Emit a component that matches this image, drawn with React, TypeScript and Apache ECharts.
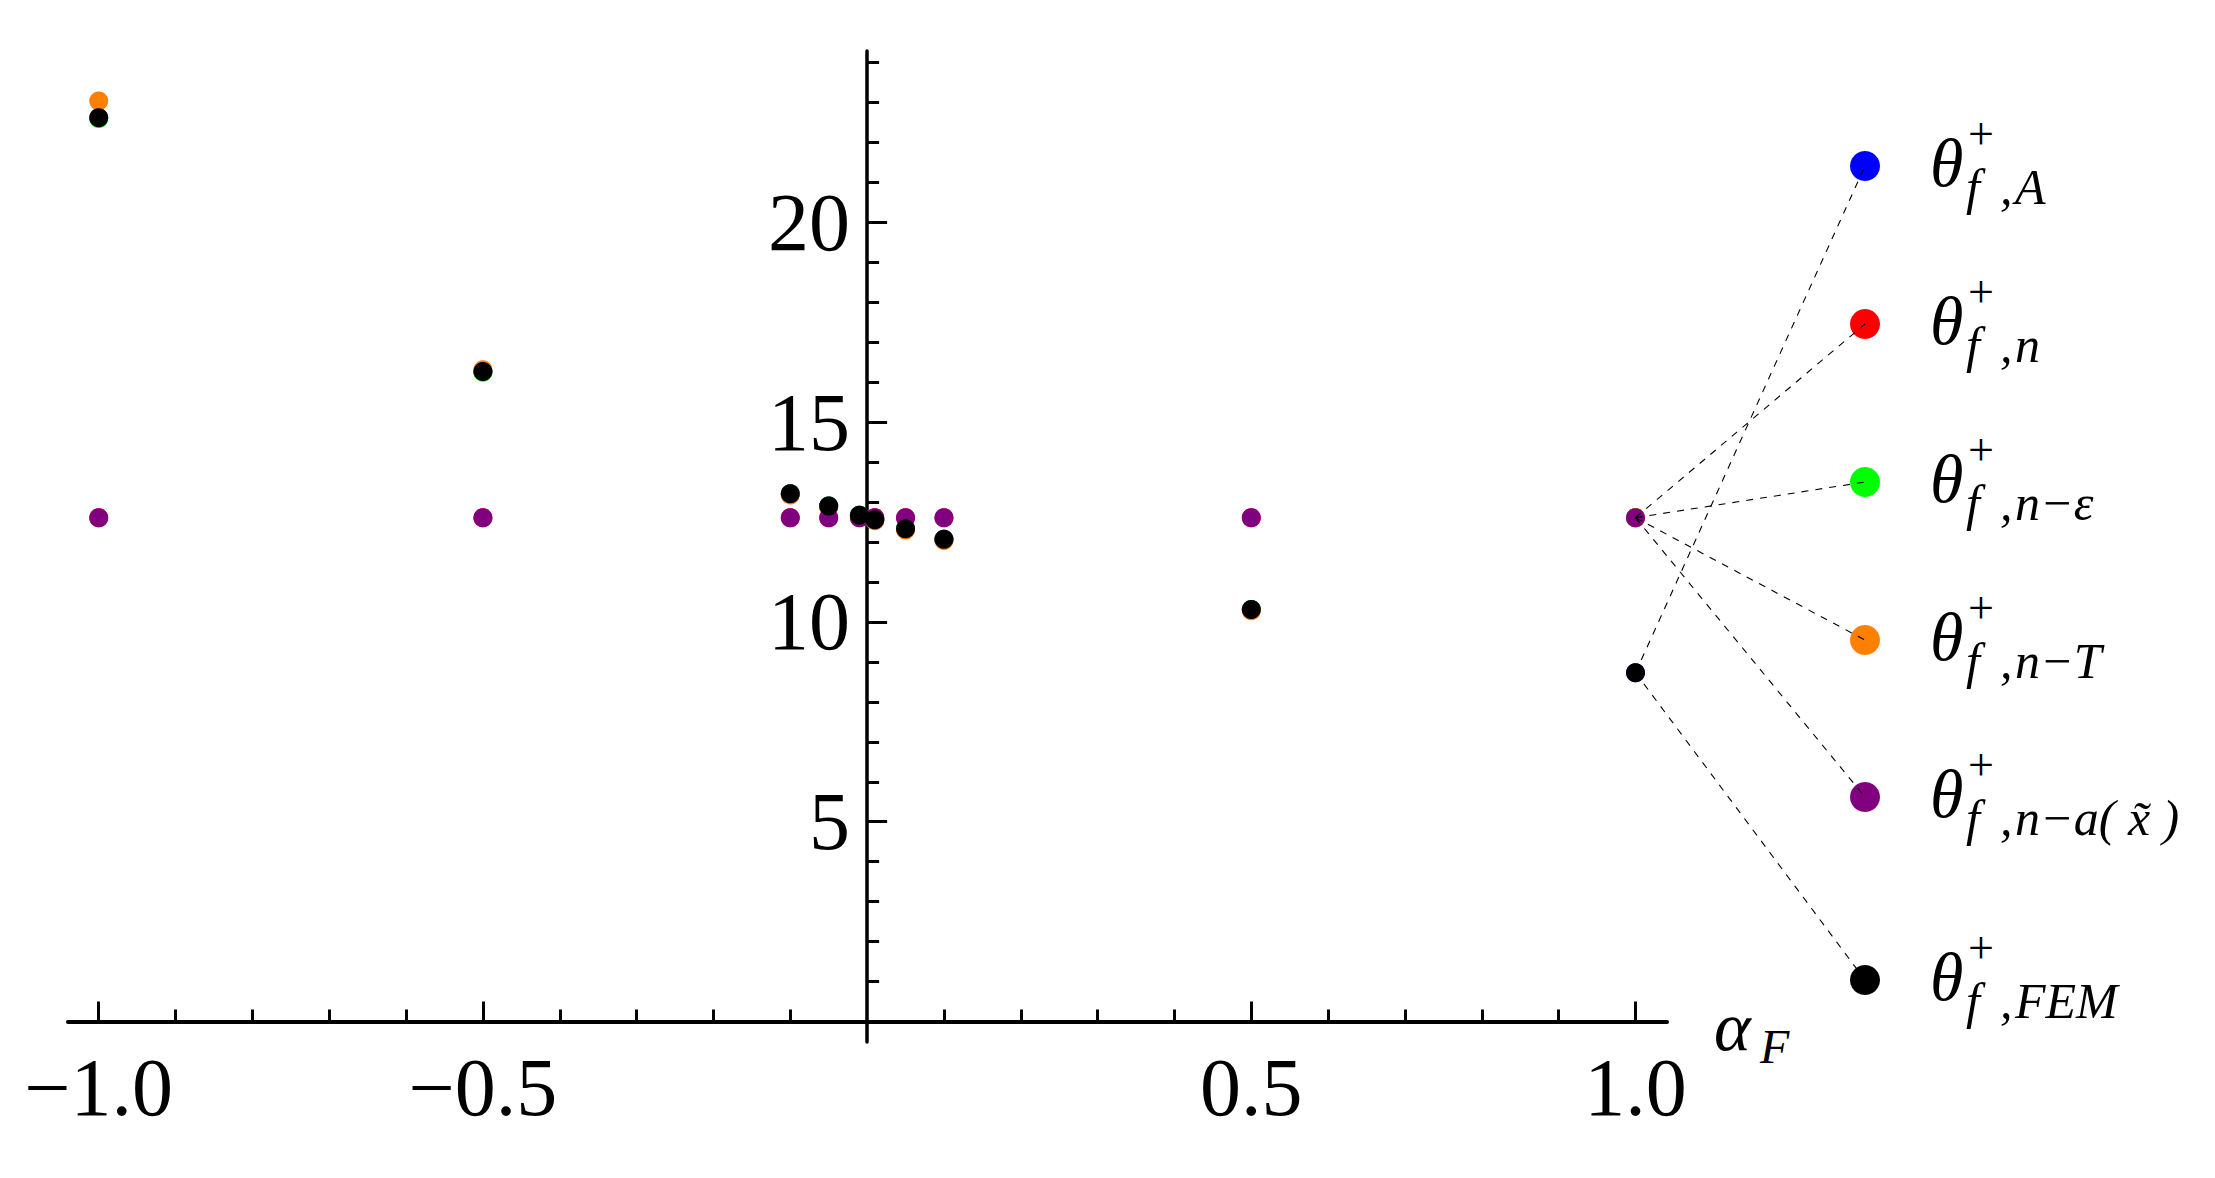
import React, { useEffect, useRef } from "react";
import * as echarts from "echarts";

// ---- data ----
const alphaValues = [-1, -0.5, -0.1, -0.05, -0.01, 0.01, 0.05, 0.1, 0.5, 1];
const thetaA = [22.62, 16.27, 13.21, 12.9, 12.67, 12.56, 12.33, 12.07, 10.31, 8.73];
const thetaN = [12.61, 12.61, 12.61, 12.61, 12.61, 12.61, 12.61, 12.61, 12.61, 12.61];
const thetaNEps = [22.6, 16.25, 13.21, 12.9, 12.67, 12.56, 12.33, 12.07, 10.31, 12.61];
const thetaNT = [23.04, 16.31, 13.18, 12.87, 12.64, 12.53, 12.3, 12.04, 10.28, 12.61];
const thetaNAx = [12.61, 12.61, 12.61, 12.61, 12.61, 12.61, 12.61, 12.61, 12.61, 12.61];
const thetaFEM = [22.62, 16.27, 13.21, 12.9, 12.67, 12.56, 12.33, 12.07, 10.31, 8.73];

const xMajorTicks = [-1, -0.5, 0.5, 1];
const xMinorTicks = [-0.9, -0.8, -0.7, -0.6, -0.4, -0.3, -0.2, -0.1, 0.1, 0.2, 0.3, 0.4, 0.6, 0.7, 0.8, 0.9];
const yMajorTicks = [5, 10, 15, 20];
const yMinorTicks = [1, 2, 3, 4, 6, 7, 8, 9, 11, 12, 13, 14, 16, 17, 18, 19, 21, 22, 23, 24];

const seriesNames = ["θ+ f,A", "θ+ f,n", "θ+ f,n−ε", "θ+ f,n−T", "θ+ f,n−a(x̃)", "θ+ f,FEM"];
const seriesColors = ["#0000ff", "#ff0000", "#00ff00", "#ff8000", "#800080", "#000000"];
const legendSubscripts = ["A", "n", "n−ε", "n−T", "n−a( x\u0303 )", "FEM"];
const seriesValues = [thetaA, thetaN, thetaNEps, thetaNT, thetaNAx, thetaFEM];

// ---- layout ----
const X_MIN = -1.04;
const X_MAX = 1.041;
const Y_MIN = -0.513;
const Y_MAX = 24.29;
const GRID_LEFT = 68;
const GRID_TOP = 51;
const GRID_W = 1599;
const GRID_H = 991;
const LEGEND_X = 1865;
const LEGEND_Y = [166, 324, 482, 640, 797, 980];
const SERIF = '"Liberation Serif", "Times New Roman", serif';

export default function App() {
  const ref = useRef<HTMLDivElement>(null);

  useEffect(() => {
    if (!ref.current) return;
    const chart = echarts.init(ref.current, undefined, { renderer: "svg" });

    const yAxisOffset = -((0 - X_MIN) / (X_MAX - X_MIN)) * GRID_W;
    const xAxisOffset = -((0 - Y_MIN) / (Y_MAX - Y_MIN)) * GRID_H;

    const fmt = (v: number) => (v < 0 ? "\u2212" + Math.abs(v).toFixed(1) : v.toFixed(1));

    const baseX = {
      type: "value" as const,
      min: X_MIN,
      max: X_MAX,
      position: "bottom" as const,
      offset: xAxisOffset,
      splitLine: { show: false },
    };
    const baseY = {
      type: "value" as const,
      min: Y_MIN,
      max: Y_MAX,
      position: "left" as const,
      offset: yAxisOffset,
      splitLine: { show: false },
    };

    chart.setOption({
      animation: false,
      backgroundColor: "#ffffff",
      grid: {
        left: GRID_LEFT,
        top: GRID_TOP,
        width: GRID_W,
        height: GRID_H,
        containLabel: false,
        outerBoundsMode: "none",
      },
      xAxis: [
        {
          ...baseX,
          axisLine: { show: true, onZero: false, lineStyle: { color: "#000", width: 4 } },
          axisTick: { show: true, inside: true, length: 20, lineStyle: { color: "#000", width: 3 }, customValues: xMajorTicks },
          axisLabel: {
            show: true,
            customValues: xMajorTicks,
            formatter: fmt,
            fontFamily: SERIF,
            fontSize: 82,
            color: "#000",
            margin: 25,
          },
        },
        {
          ...baseX,
          axisLine: { show: false, onZero: false },
          axisTick: { show: true, inside: true, length: 12, lineStyle: { color: "#000", width: 3 }, customValues: xMinorTicks },
          axisLabel: { show: false },
        },
      ],
      yAxis: [
        {
          ...baseY,
          axisLine: { show: true, onZero: false, lineStyle: { color: "#000", width: 3.5 } },
          axisTick: { show: true, inside: true, length: 20, lineStyle: { color: "#000", width: 3 }, customValues: yMajorTicks },
          axisLabel: {
            show: true,
            customValues: yMajorTicks,
            formatter: (v: number) => String(v),
            fontFamily: SERIF,
            fontSize: 82,
            color: "#000",
            margin: 17,
          },
        },
        {
          ...baseY,
          axisLine: { show: false, onZero: false },
          axisTick: { show: true, inside: true, length: 12, lineStyle: { color: "#000", width: 3 }, customValues: yMinorTicks },
          axisLabel: { show: false },
        },
      ],
      series: seriesValues.map((vals, k) => ({
        name: seriesNames[k],
        type: "scatter",
        xAxisIndex: 0,
        yAxisIndex: 0,
        symbol: "circle",
        symbolSize: 19,
        silent: true,
        itemStyle: { color: seriesColors[k], opacity: 1 },
        emphasis: { disabled: true },
        data: alphaValues.map((x, i) => [x, vals[i]]),
      })),
    });

    const graphics: any[] = [];
    const last = alphaValues.length - 1;
    const txt = (text: string, x: number, y: number, font: string, align = "left") => ({
      type: "text",
      silent: true,
      z: 50,
      x,
      y,
      style: {
        text,
        font,
        fill: "#000",
        align,
        textAlign: align,
        verticalAlign: "middle",
        textVerticalAlign: "middle",
      },
    });
    seriesValues.forEach((vals, k) => {
      const p = chart.convertToPixel({ seriesIndex: k }, [alphaValues[last], vals[last]]) as number[];
      const ly = LEGEND_Y[k];
      graphics.push({
        type: "line",
        silent: true,
        z: 100,
        shape: { x1: p[0], y1: p[1], x2: LEGEND_X, y2: ly },
        style: { stroke: "#000", lineWidth: 1.1, lineDash: [7, 7] },
      });
      graphics.push({
        type: "circle",
        silent: true,
        z: 50,
        shape: { cx: LEGEND_X, cy: ly, r: 15 },
        style: { fill: seriesColors[k] },
      });
      graphics.push(txt("θ", 1930, ly - 3, `italic 68px ${SERIF}`));
      graphics.push(txt("+", 1981, ly - 33, `46px ${SERIF}`, "center"));
      graphics.push(txt("f", 1966, ly + 21, `italic 50px ${SERIF}`));
      graphics.push(txt(",", 2000, ly + 21, `italic 50px ${SERIF}`));
      graphics.push(txt(legendSubscripts[k], 2015, ly + 21, `italic 50px ${SERIF}`));
    });

    // axis name α_F
    graphics.push(txt("α", 1714, 1026, `italic 70px ${SERIF}`));
    graphics.push(txt("F", 1760, 1046, `italic 48px ${SERIF}`));

    chart.setOption({ graphic: graphics });

    return () => {
      chart.dispose();
    };
  }, []);

  return (
    <div
      ref={ref}
      style={{ position: "fixed", left: 0, top: 0, width: "2215px", height: "1178px", background: "#fff" }}
    />
  );
}
